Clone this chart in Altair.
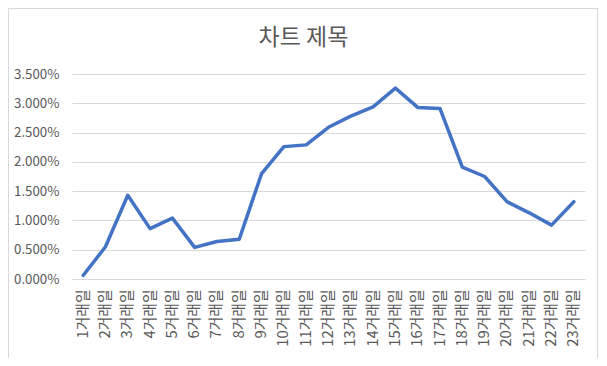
import altair as alt
import pandas as pd

days = [f"{i}거래일" for i in range(1, 24)]
values = [0.0006, 0.0055, 0.0143, 0.0086, 0.0104, 0.0054, 0.0064, 0.0068, 0.0180,
          0.0226, 0.0229, 0.0259, 0.0278, 0.0294, 0.0326, 0.0293, 0.0291, 0.0191,
          0.0175, 0.0132, 0.0113, 0.0092, 0.0132]
y_ticks = [0, 0.005, 0.01, 0.015, 0.02, 0.025, 0.03, 0.035]

df = pd.DataFrame({"day": days, "value": values})

FONT = "Noto Sans CJK KR"
GREY = "#595959"

line = alt.Chart(df).mark_line(
    color="#4472C4", strokeWidth=3.5, strokeJoin="round", strokeCap="round"
).encode(
    x=alt.X("day:N", sort=days, title=None,
            scale=alt.Scale(paddingInner=0, paddingOuter=0.5),
            axis=alt.Axis(labelAngle=-90, labelFont=FONT, labelFontSize=14.8,
                          labelColor=GREY, ticks=False, domain=True,
                          domainColor="#d9d9d9", labelPadding=10, grid=False)),
    y=alt.Y("value:Q", title=None,
            scale=alt.Scale(domain=[0, 0.035], nice=False),
            axis=alt.Axis(values=y_ticks, format=".3%", labelFont=FONT,
                          labelFontSize=13.3, labelColor=GREY, ticks=False,
                          domain=False, gridColor="#d9d9d9", labelPadding=13)),
)

frame = alt.Chart(df).mark_rect(
    fillOpacity=0, stroke="#d9d9d9", strokeWidth=1, clip=False
).encode(
    x=alt.value(-63.5), x2=alt.value(525.5), y=alt.value(-65.5), y2=alt.value(286.5)
)

chart = alt.layer(frame, line).properties(
    width=513, height=205,
    title=alt.TitleParams("차트 제목", font=FONT, fontSize=23, fontWeight="normal",
                          color=GREY, anchor="middle", frame="group", dx=-25,
                          offset=0, dy=60, baseline="alphabetic"),
    autosize=alt.AutoSizeParams(type="none"),
    padding={"left": 64, "top": 66, "right": 14, "bottom": 79},
    background="white",
).configure_view(stroke=None)

chart.save("out.html", embed_options={"renderer": "svg", "actions": False})
